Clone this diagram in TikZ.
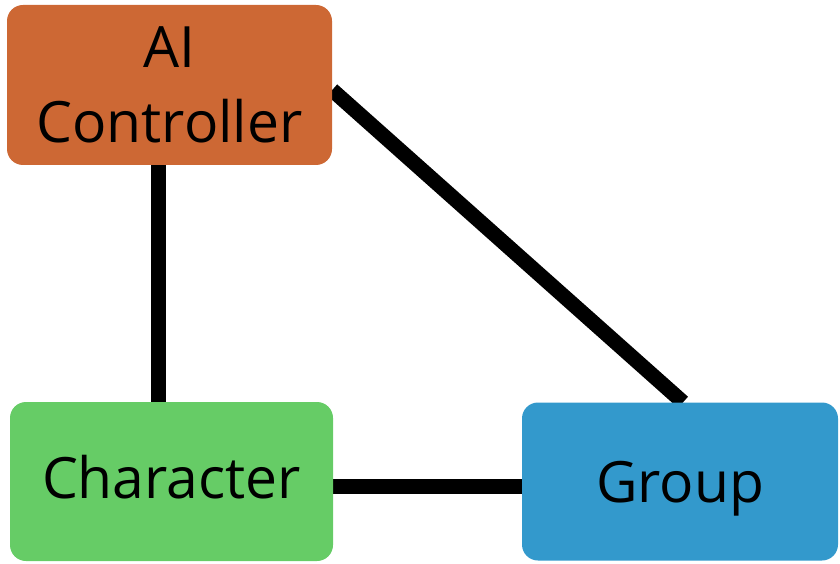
\documentclass[tikz,border=0pt]{standalone}
\usepackage{fontspec}
\setmainfont{Open Sans}
\usetikzlibrary{backgrounds}
\definecolor{aiorange}{RGB}{205,104,52}
\definecolor{chargreen}{RGB}{102,204,102}
\definecolor{groupblue}{RGB}{51,153,204}
\tikzset{
  entity/.style={rounded corners=16pt, inner sep=0pt, align=center,
    font=\fontsize{57}{75}\selectfont, text=black},
  link/.style={line width=15pt, black}
}
\begin{document}
\begin{tikzpicture}[x=1pt,y=1pt]
\useasboundingbox (0,0) rectangle (840,563);
\node[entity, fill=aiorange, minimum width=325pt, minimum height=160pt] (ai) at (169.5,478) {AI\\Controller};
\node[entity, fill=chargreen, minimum width=323pt, minimum height=159pt, text depth=9pt] (char) at (171.5,81.5) {Character};
\node[entity, fill=groupblue, minimum width=316pt, minimum height=158pt, text depth=0pt] (grp) at (680,81.5) {Group};
\begin{scope}[on background layer]
\draw[link] ([xshift=-11.5pt]ai.south) -- ([xshift=-13.5pt]char.north);
\draw[link] ([yshift=-4.5pt]char.east) -- ([yshift=-4.5pt]grp.west);
\draw[link] ([yshift=-5pt]ai.east) -- ([xshift=3pt]grp.north);
\end{scope}
\end{tikzpicture}
\end{document}
